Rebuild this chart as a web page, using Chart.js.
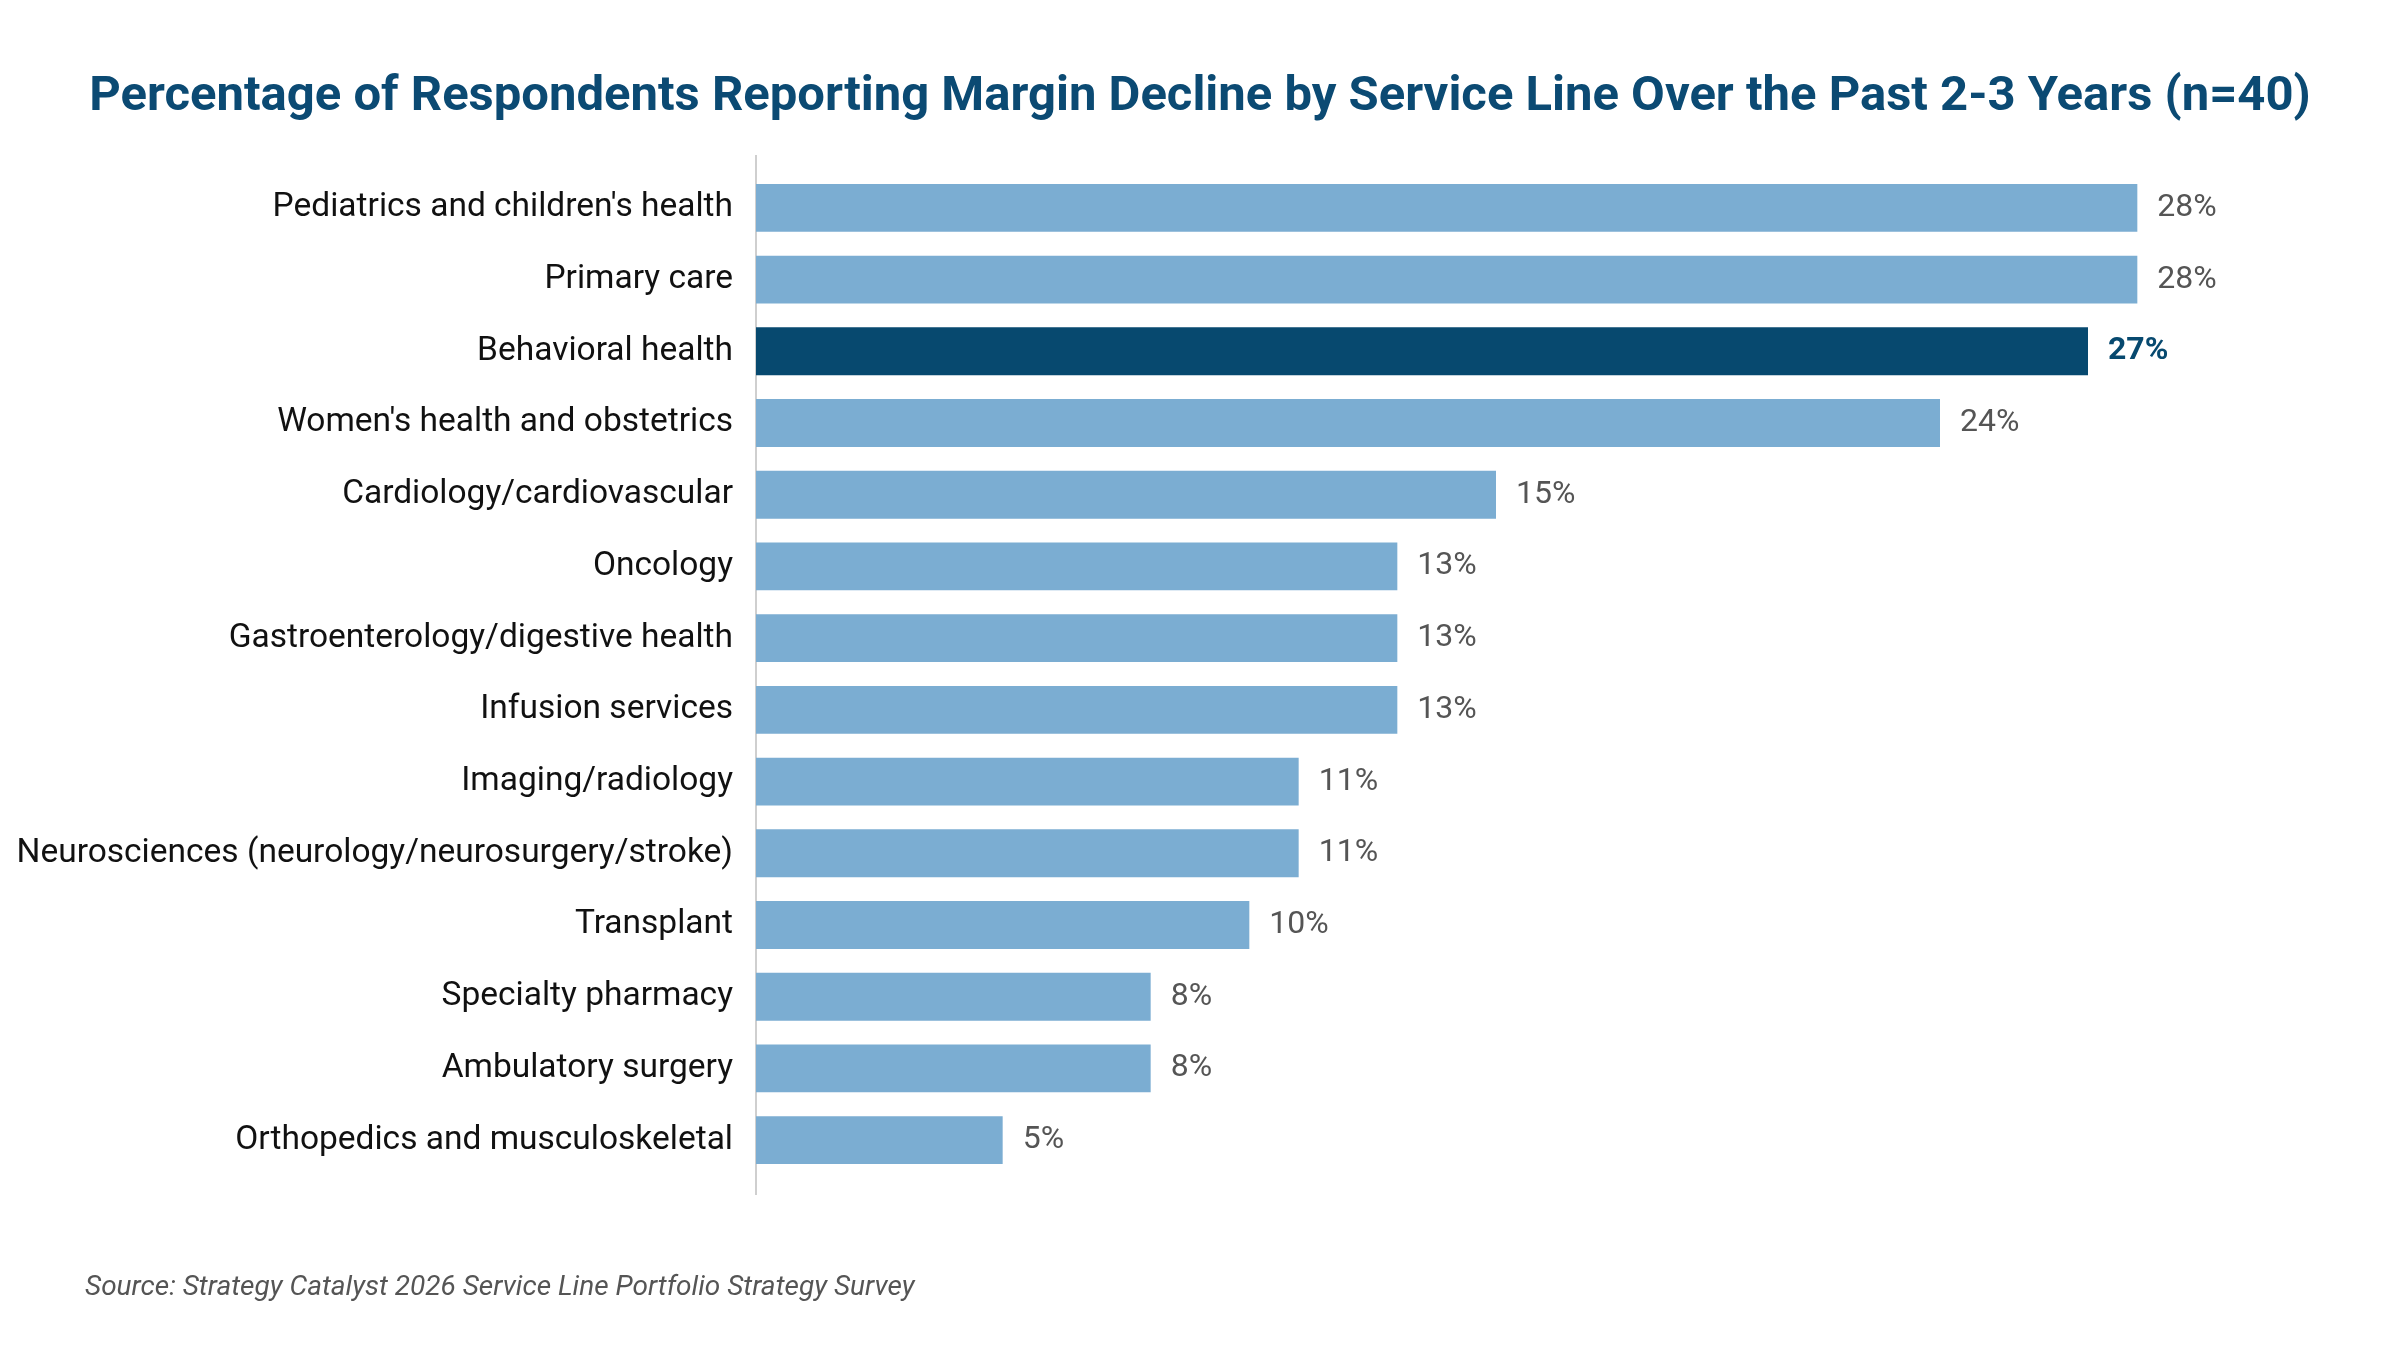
<!DOCTYPE html>
<html>
<head>
<meta charset="utf-8">
<script src="https://cdn.jsdelivr.net/npm/chart.js@4.4.1/dist/chart.umd.min.js"></script>
<style>
  html, body { margin: 0; padding: 0; background: #fff; }
  #wrap { width: 2400px; height: 1350px; }
</style>
</head>
<body>
<div id="wrap"><canvas id="myChart" width="2400" height="1350"></canvas></div>
<script>
const titleText = 'Percentage of Respondents Reporting Margin Decline by Service Line Over the Past 2-3 Years (n=40)';
const sourceText = 'Source: Strategy Catalyst 2026 Service Line Portfolio Strategy Survey';

const serviceLines = [
    'Pediatrics and children\'s health',
    'Primary care',
    'Behavioral health',
    'Women\'s health and obstetrics',
    'Cardiology/cardiovascular',
    'Oncology',
    'Gastroenterology/digestive health',
    'Infusion services',
    'Imaging/radiology',
    'Neurosciences (neurology/neurosurgery/stroke)',
    'Transplant',
    'Specialty pharmacy',
    'Ambulatory surgery',
    'Orthopedics and musculoskeletal'
];
const marginDecline = [28, 28, 27, 24, 15, 13, 13, 13, 11, 11, 10, 8, 8, 5];
const highlighted = 'Behavioral health';

const lightBlue = '#7badd2';
const darkBlue = '#07496f';
const titleBlue = '#0b4a73';

// draws title and source line
const textPlugin = {
    id: 'textPlugin',
    afterDraw(chart) {
        const ctx = chart.ctx;
        ctx.save();
        ctx.fillStyle = titleBlue;
        ctx.font = 'bold 49px Roboto';
        ctx.textAlign = 'center';
        ctx.textBaseline = 'middle';
        ctx.fillText(titleText, chart.width / 2, 98);

        ctx.fillStyle = '#555555';
        ctx.font = 'italic 28px Roboto';
        ctx.textAlign = 'left';
        ctx.fillText(sourceText, 85, 1288);
        ctx.restore();
    }
};

// vertical baseline a bit longer than the plot area
const axisLinePlugin = {
    id: 'axisLine',
    beforeDatasetsDraw(chart) {
        const ctx = chart.ctx;
        const x = chart.scales.x.getPixelForValue(0);
        ctx.save();
        ctx.strokeStyle = '#cfcfcf';
        ctx.lineWidth = 2;
        ctx.beginPath();
        ctx.moveTo(x, chart.chartArea.top - 17);
        ctx.lineTo(x, chart.chartArea.bottom + 19);
        ctx.stroke();
        ctx.restore();
    }
};

// value labels at the end of each bar
const valueLabels = {
    id: 'valueLabels',
    afterDatasetsDraw(chart) {
        const ctx = chart.ctx;
        const meta = chart.getDatasetMeta(0);
        ctx.save();
        ctx.textAlign = 'left';
        ctx.textBaseline = 'middle';
        meta.data.forEach((bar, i) => {
            const isHi = serviceLines[i] === highlighted;
            ctx.font = (isHi ? 'bold ' : '') + '32px Roboto';
            ctx.fillStyle = isHi ? darkBlue : '#555555';
            ctx.fillText(marginDecline[i] + '%', bar.x + 20, bar.y);
        });
        ctx.restore();
    }
};

function drawChart() {
    new Chart(document.getElementById('myChart').getContext('2d'), {
        type: 'bar',
        data: {
            labels: serviceLines,
            datasets: [{
                label: 'Margin decline',
                data: marginDecline,
                backgroundColor: serviceLines.map((s) => s === highlighted ? darkBlue : lightBlue),
                borderWidth: 0,
                categoryPercentage: 1,
                barPercentage: 0.667
            }]
        },
        options: {
            indexAxis: 'y',
            responsive: false,
            animation: false,
            devicePixelRatio: 1,
            layout: {
                padding: { top: 172, bottom: 174, left: 6, right: 164 }
            },
            plugins: {
                legend: { display: false },
                tooltip: { enabled: false }
            },
            scales: {
                x: {
                    display: false,
                    min: 0,
                    max: 30
                },
                y: {
                    grid: { display: false, drawTicks: false },
                    border: { display: false },
                    ticks: {
                        color: '#111111',
                        padding: 23,
                        font: { family: 'Roboto', size: 33.5 }
                    },
                    afterFit(scale) {
                        scale.width = 750;
                    }
                }
            }
        },
        plugins: [textPlugin, axisLinePlugin, valueLabels]
    });
}

Promise.all([
    document.fonts.load('33px Roboto'),
    document.fonts.load('bold 49px Roboto'),
    document.fonts.load('italic 28px Roboto')
]).then(drawChart, drawChart);
</script>
</body>
</html>
